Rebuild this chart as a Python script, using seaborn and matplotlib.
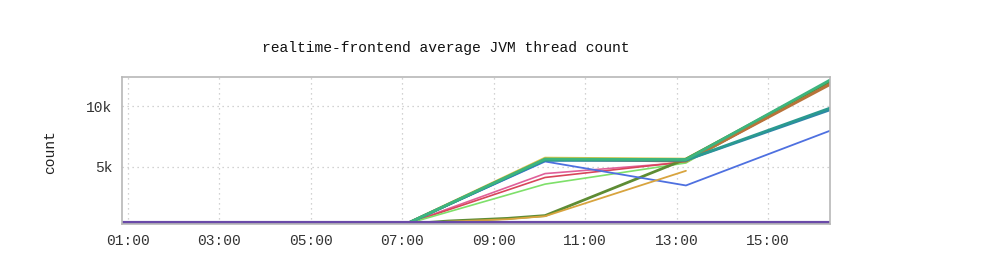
import numpy as np
import pandas as pd
import matplotlib
matplotlib.use("Agg")
import matplotlib.pyplot as plt
import seaborn as sns

# ---- data (hours of day, thread counts) ----
title = "realtime-frontend average JVM thread count"
y_label = "count"
x_ticks = [1, 3, 5, 7, 9, 11, 13, 15]
x_tick_labels = ["01:00", "03:00", "05:00", "07:00", "09:00", "11:00", "13:00", "15:00"]
y_ticks = [5000, 10000]
y_tick_labels = ["5k", "10k"]

t_main = [0.87, 7.08, 10.12, 13.2, 16.35]
t_slow = [0.87, 7.08, 8.0, 9.3, 10.12, 13.2, 16.35]
t_short = [0.87, 7.08, 8.0, 9.3, 10.12, 13.2]
t_flat = [0.87, 16.35]

yellow = [250, 250, 5700, 5620, 11950]
green = [250, 250, 5620, 5580, 12150]
teal = [250, 250, 5560, 5550, 9830]
blueteal = [250, 250, 5500, 5520, 9680]
blue = [250, 250, 5420, 3440, 7960]
pink = [250, 250, 4420, 5350, 11900]
red = [250, 250, 4100, 5400, 11850]
brown = [250, 250, 5600, 5450, 11780]
lightgreen = [250, 250, 3550, 5300, 12050]
olive = [250, 250, 500, 720, 950, 5620, 12050]
gold = [250, 250, 450, 650, 900, 4650]
purple = [300, 300]

series = [
    ("yellow", t_main, yellow, "#d9c84a", 2.0),
    ("pink", t_main, pink, "#e0609a", 1.2),
    ("red", t_main, red, "#d8455a", 1.2),
    ("lightgreen", t_main, lightgreen, "#7ee06a", 1.2),
    ("olive", t_slow, olive, "#5e8c34", 2.0),
    ("brown", t_main, brown, "#b8733a", 2.0),
    ("blue", t_main, blue, "#4e70e0", 1.3),
    ("blueteal", t_main, blueteal, "#2f86a8", 1.8),
    ("teal", t_main, teal, "#2a9a90", 2.0),
    ("green", t_main, green, "#3db57e", 2.0),
    ("gold", t_short, gold, "#d8a43e", 1.3),
    ("purple", t_flat, purple, "#6a4aa8", 3.0),
]

rows = []
for name, ts, vs, _, _ in series:
    for t, v in zip(ts, vs):
        rows.append({"series": name, "hour": t, "count": v})
df = pd.DataFrame(rows)

sns.set_theme(style="white")
plt.rcParams["font.family"] = ["Liberation Mono", "DejaVu Sans Mono"]

fig = plt.figure(figsize=(10, 2.78), dpi=100)
ax = fig.add_axes([0.122, 0.194, 0.708, 0.529])

for name, ts, vs, color, lw in series:
    sub = df[df["series"] == name]
    sns.lineplot(data=sub, x="hour", y="count", ax=ax, color=color,
                 linewidth=lw, sort=False, estimator=None, legend=False)

ax.set_xlim(0.87, 16.35)
ax.set_ylim(250, 12400)
ax.set_xticks(x_ticks)
ax.set_xticklabels(x_tick_labels, fontsize=10.5, color="#333333")
ax.set_yticks(y_ticks)
ax.set_yticklabels(y_tick_labels, fontsize=10.5, color="#333333")
ax.tick_params(length=0, pad=7)
ax.set_xlabel("")
ax.set_ylabel("")
ax.grid(True, linestyle=(0, (1, 3)), color="#c4c4c4", linewidth=0.9)
for s in ax.spines.values():
    s.set_color("#b8b8b8")
    s.set_linewidth(1.2)

fig.text(0.446, 1 - 48 / 278, title, ha="center", va="center", fontsize=10.5, color="#111111")
fig.text(0.05, 1 - 152 / 278, y_label, ha="center", va="center", rotation=90, fontsize=10.5, color="#222222")

fig.savefig("out.png", dpi=100, facecolor="white")
